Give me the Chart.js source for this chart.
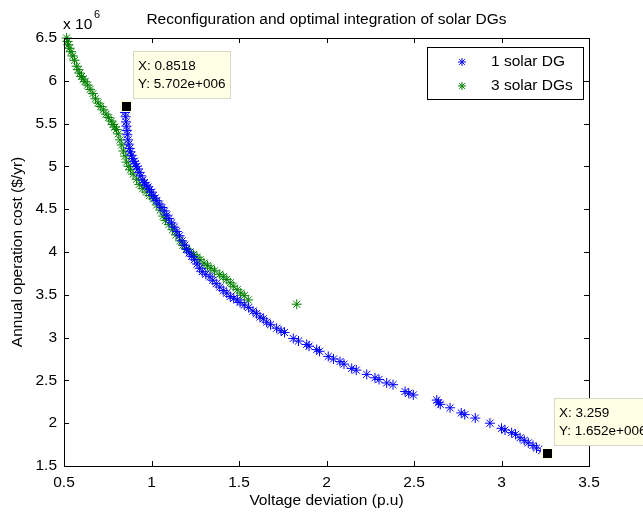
<!DOCTYPE html>
<html><head><meta charset="utf-8">
<script src="https://cdn.jsdelivr.net/npm/chart.js@4/dist/chart.umd.min.js"></script>
<style>html,body{margin:0;padding:0;background:#fff;}canvas{display:block;}</style>
</head><body>
<canvas id="c" width="643" height="513"></canvas>
<script>
// ---- data (y in units of 10^6 $/yr) ----
const blueX = [0.849,0.852,0.855,0.857,0.86,0.862,0.866,0.87,0.875,0.88,0.886,0.893,0.9,0.907,0.915,0.923,0.93,0.94,0.95,0.96,0.97,0.98,0.99,1.00,1.01,1.02,1.03,1.045,1.06,1.075,1.087,1.10,1.115,1.13,1.145,1.16,1.175,1.19,1.20,1.215,1.23,1.245,1.26,1.275,1.29,1.31,1.334,1.35,1.37,1.39,1.41,1.43,1.45,1.47,1.49,1.506,1.53,1.555,1.58,1.60,1.62,1.639,1.658,1.68,1.715,1.74,1.76,1.81,1.84,1.887,1.90,1.944,1.96,2.01,2.04,2.077,2.10,2.144,2.17,2.23,2.277,2.30,2.344,2.38,2.449,2.47,2.496,2.63,2.64,2.65,2.706,2.77,2.79,2.85,2.934,3.00,3.02,3.058,3.08,3.106,3.13,3.153,3.18,3.20,3.23,3.259];
const blueY = [5.63,5.58,5.52,5.47,5.42,5.37,5.31,5.26,5.21,5.17,5.13,5.09,5.06,5.03,5.00,4.97,4.93,4.89,4.84,4.81,4.78,4.76,4.73,4.70,4.66,4.63,4.60,4.56,4.52,4.48,4.43,4.39,4.34,4.29,4.24,4.19,4.13,4.08,4.03,3.99,3.95,3.91,3.86,3.81,3.77,3.74,3.71,3.67,3.63,3.59,3.55,3.52,3.48,3.46,3.44,3.41,3.38,3.35,3.31,3.28,3.24,3.22,3.18,3.15,3.11,3.08,3.06,2.99,2.96,2.92,2.90,2.86,2.84,2.78,2.75,2.72,2.69,2.64,2.62,2.57,2.53,2.51,2.47,2.45,2.37,2.35,2.33,2.27,2.24,2.22,2.18,2.12,2.10,2.06,2.00,1.94,1.92,1.89,1.87,1.83,1.80,1.77,1.74,1.71,1.68,1.652];
const greenX = [0.515,0.52,0.525,0.53,0.54,0.55,0.56,0.572,0.58,0.59,0.60,0.61,0.62,0.635,0.649,0.665,0.68,0.695,0.71,0.725,0.74,0.755,0.77,0.78,0.79,0.80,0.81,0.82,0.83,0.84,0.85,0.858,0.87,0.88,0.895,0.915,0.93,0.95,0.97,0.99,1.01,1.03,1.05,1.067,1.08,1.10,1.12,1.14,1.163,1.18,1.20,1.22,1.24,1.26,1.277,1.30,1.32,1.34,1.36,1.39,1.41,1.43,1.45,1.467,1.49,1.51,1.53,1.553,1.83];
const greenY = [6.50,6.46,6.42,6.38,6.34,6.29,6.24,6.17,6.13,6.09,6.05,6.02,5.99,5.95,5.90,5.85,5.79,5.74,5.70,5.66,5.61,5.57,5.53,5.49,5.46,5.43,5.38,5.31,5.25,5.18,5.12,5.05,5.00,4.96,4.91,4.85,4.79,4.74,4.70,4.66,4.62,4.55,4.49,4.42,4.37,4.32,4.26,4.20,4.13,4.08,4.04,4.00,3.97,3.94,3.91,3.87,3.84,3.81,3.78,3.74,3.71,3.68,3.64,3.60,3.56,3.52,3.49,3.44,3.39];
const seriesNames = ['1 solar DG','3 solar DGs'];
const xTicks = [0.5,1,1.5,2,2.5,3,3.5];
const yTicks = [1.5,2,2.5,3,3.5,4,4.5,5,5.5,6,6.5];
const tipX = [0.8518, 3.259];
const tipY = [5.702, 1.652];
const titleText = 'Reconfiguration and optimal integration of solar DGs';
const xTitle = 'Voltage deviation (p.u)';
const yTitle = 'Annual operation cost ($/yr)';

const FAM = '"Liberation Sans", Arial, sans-serif';
const FONT = '15.5px ' + FAM;
const TIPFONT = '13.5px ' + FAM;
const toPts = (xs, ys) => xs.map((x, i) => ({x: x, y: ys[i]}));

function star(ctx, x, y, r, color) {
  ctx.save();
  ctx.strokeStyle = color; ctx.lineWidth = 1;
  ctx.beginPath();
  ctx.moveTo(x - r, y); ctx.lineTo(x + r, y);
  ctx.moveTo(x, y - r); ctx.lineTo(x, y + r);
  const d = r * Math.SQRT1_2;
  ctx.moveTo(x - d, y - d); ctx.lineTo(x + d, y + d);
  ctx.moveTo(x - d, y + d); ctx.lineTo(x + d, y - d);
  ctx.stroke();
  ctx.restore();
}

const decor = {
  id: 'decor',
  afterDraw(chart) {
    const ctx = chart.ctx, a = chart.chartArea;
    const xs = chart.scales.x, ys = chart.scales.y;
    ctx.save();
    ctx.strokeStyle = '#000'; ctx.lineWidth = 1;
    ctx.strokeRect(Math.round(a.left) + 0.5, Math.round(a.top) + 0.5, Math.round(a.right - a.left), Math.round(a.bottom - a.top));
    const tl = 5;
    ctx.beginPath();
    xTicks.forEach(v => {
      const p = Math.round(xs.getPixelForValue(v)) + 0.5;
      ctx.moveTo(p, a.bottom); ctx.lineTo(p, a.bottom - tl);
      ctx.moveTo(p, a.top); ctx.lineTo(p, a.top + tl);
    });
    yTicks.forEach(v => {
      const p = Math.round(ys.getPixelForValue(v)) + 0.5;
      ctx.moveTo(a.left, p); ctx.lineTo(a.left + tl, p);
      ctx.moveTo(a.right, p); ctx.lineTo(a.right - tl, p);
    });
    ctx.stroke();
    ctx.fillStyle = '#000'; ctx.font = FONT;
    ctx.textAlign = 'center'; ctx.textBaseline = 'middle';
    ctx.fillText(titleText, (a.left + a.right) / 2, 20);
    ctx.fillText(xTitle, (a.left + a.right) / 2, 501);
    ctx.save();
    ctx.translate(18, (a.top + a.bottom) / 2);
    ctx.rotate(-Math.PI / 2);
    ctx.fillText(yTitle, 0, 0);
    ctx.restore();
    ctx.textAlign = 'left';
    ctx.fillText('x 10', a.left - 1, 25);
    ctx.font = '11px ' + FAM;
    ctx.fillText('6', a.left + 30, 15);
    ctx.font = TIPFONT;
    tipX.forEach((tx, i) => {
      const px = Math.round(xs.getPixelForValue(tx));
      const py = Math.round(ys.getPixelForValue(tipY[i]));
      const bx = px + 7, by = py - 55, bw = 98, bh = 48;
      ctx.fillStyle = '#FFFFE5';
      ctx.fillRect(bx, by, bw, bh);
      ctx.strokeStyle = '#D8D8C8';
      ctx.strokeRect(bx + 0.5, by + 0.5, bw - 1, bh - 1);
      ctx.fillStyle = '#000';
      ctx.textBaseline = 'middle';
      ctx.fillText('X: ' + tx, bx + 5, by + 15);
      ctx.fillText('Y: ' + tipY[i].toFixed(3) + 'e+006', bx + 5, by + 33);
      ctx.fillStyle = '#FFFFE5';
      ctx.fillRect(px - 6, py - 6, 12, 12);
      ctx.fillStyle = '#000';
      ctx.fillRect(px - 4, py - 4, 9, 9);
    });
    const lx = 427, ly = 47, lw = 156, lh = 52;
    ctx.fillStyle = '#fff';
    ctx.fillRect(lx, ly, lw, lh);
    ctx.strokeStyle = '#000';
    ctx.strokeRect(lx + 0.5, ly + 0.5, lw, lh);
    const colors = ['#0000FF', '#008000'];
    ctx.font = FONT;
    seriesNames.forEach((n, i) => {
      const yy = ly + 15 + i * 24;
      star(ctx, lx + 35, yy, 4, colors[i]);
      ctx.fillStyle = '#000'; ctx.textAlign = 'left'; ctx.textBaseline = 'middle';
      ctx.fillText(n, lx + 64, yy);
    });
    ctx.restore();
  }
};

const tickFont = {family: FAM, size: 15.5};
new Chart(document.getElementById('c'), {
  type: 'scatter',
  data: {
    datasets: [
      {label: seriesNames[0], data: toPts(blueX, blueY), pointStyle: 'star', pointRadius: 5, borderColor: '#0000FF', backgroundColor: '#0000FF', borderWidth: 1, showLine: false, clip: false},
      {label: seriesNames[1], data: toPts(greenX, greenY), pointStyle: 'star', pointRadius: 5, borderColor: '#008000', backgroundColor: '#008000', borderWidth: 1, showLine: false, clip: false}
    ]
  },
  options: {
    responsive: false, animation: false, devicePixelRatio: 1,
    layout: {padding: {left: 0, top: 38, right: 54, bottom: 0}},
    plugins: {legend: {display: false}, tooltip: {enabled: false}, title: {display: false}},
    scales: {
      x: {
        type: 'linear', min: 0.5, max: 3.5,
        afterBuildTicks: s => { s.ticks = xTicks.map(v => ({value: v})); },
        afterFit: s => { s.height = 47; },
        grid: {display: false, drawTicks: false},
        border: {display: false},
        ticks: {color: '#000', font: tickFont, padding: 7, maxRotation: 0, autoSkip: false, callback: v => String(v)}
      },
      y: {
        type: 'linear', min: 1.5, max: 6.5,
        afterBuildTicks: s => { s.ticks = yTicks.map(v => ({value: v})); },
        afterFit: s => { s.width = 64; },
        grid: {display: false, drawTicks: false},
        border: {display: false},
        ticks: {color: '#000', font: tickFont, padding: 7, autoSkip: false, callback: v => String(v)}
      }
    }
  },
  plugins: [decor]
});
</script>
</body></html>
